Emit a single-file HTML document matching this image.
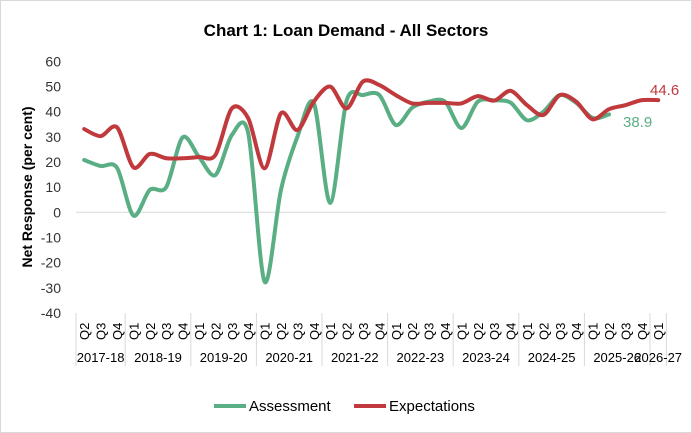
<!DOCTYPE html>
<html><head><meta charset="utf-8"><style>
body{margin:0;background:#fff}
svg{display:block;font-family:"Liberation Sans",Arial,sans-serif}
</style></head><body>
<svg id="s" width="692" height="433" viewBox="0 0 692 433">
<rect x="0.5" y="0.5" width="691" height="432" fill="#fff" stroke="#d9d9d9"/>
<text x="346" y="36" text-anchor="middle" font-size="17" font-weight="bold" fill="#000">Chart 1: Loan Demand - All Sectors</text>
<text transform="translate(32,187) rotate(-90)" text-anchor="middle" font-size="14" font-weight="bold" fill="#000">Net Response (per cent)</text>
<g font-size="14" fill="#333" text-anchor="end" id="yt"></g>
<line x1="76" y1="212.3" x2="666" y2="212.3" stroke="#d9d9d9" stroke-width="1"/>
<g id="xa"></g>
<path id="g" fill="none" stroke="#5aae84" stroke-width="4" stroke-linejoin="round" stroke-linecap="round"/>
<path id="r" fill="none" stroke="#c0393c" stroke-width="4" stroke-linejoin="round" stroke-linecap="round"/>
<text x="623" y="127" font-size="15" fill="#5aae84">38.9</text>
<text x="650" y="95" font-size="15" fill="#c0393c">44.6</text>
<line x1="214" y1="406" x2="246" y2="406" stroke="#5aae84" stroke-width="4"/>
<text x="249" y="411" font-size="15" fill="#000">Assessment</text>
<line x1="354" y1="406" x2="386" y2="406" stroke="#c0393c" stroke-width="4"/>
<text x="389" y="411" font-size="15" fill="#000">Expectations</text>
</svg>
<script>
var NS="http://www.w3.org/2000/svg";
function Y(v){return 212.3-v*2.515;}
function X(i){return 76+16.4*(i+0.5);}
var yt=document.getElementById('yt');
for(var v=-40;v<=60;v+=10){var t=document.createElementNS(NS,'text');t.setAttribute('x',61);t.setAttribute('y',Y(v)+5);t.textContent=v;yt.appendChild(t);}
var xa=document.getElementById('xa');
var q=['Q2','Q3','Q4'];for(var k=0;k<8;k++)q.push('Q1','Q2','Q3','Q4');q.push('Q1');
q.forEach(function(s,i){var t=document.createElementNS(NS,'text');var x=X(i)+5;t.setAttribute('transform','translate('+x+',340) rotate(-90)');t.setAttribute('font-size','13');t.setAttribute('fill','#000');t.textContent=s;xa.appendChild(t);});
var seps=[0,3,7,11,15,19,23,27,31,35,36];
seps.forEach(function(i){var l=document.createElementNS(NS,'line');var x=76+16.4*i;l.setAttribute('x1',x);l.setAttribute('x2',x);l.setAttribute('y1',313);l.setAttribute('y2',366);l.setAttribute('stroke','#d9d9d9');xa.appendChild(l);});
var yrs=['2017-18','2018-19','2019-20','2020-21','2021-22','2022-23','2023-24','2024-25','2025-26','2026-27'];
yrs.forEach(function(s,j){var a=76+16.4*seps[j],b=76+16.4*seps[j+1];var t=document.createElementNS(NS,'text');t.setAttribute('x',(a+b)/2);t.setAttribute('y',362);t.setAttribute('text-anchor','middle');t.setAttribute('font-size','13');t.setAttribute('fill','#000');t.textContent=s;xa.appendChild(t);});
var G=[20.8,18.4,17.7,-1.3,8.9,10,29.8,22,14.8,30.7,31.5,-27.6,9,30,43.5,3.7,44.4,46.6,46.6,34.7,41.6,44,44,33.5,44,44.5,43.6,36.6,40,46.6,43.5,37.5,38.9];
var R=[33.1,30.3,33.8,17.9,23.2,21.5,21.5,22,22.8,41.3,37.4,17.5,39.4,32.7,44,50,41.3,52,50.6,46.6,43.3,43.5,43.5,43.3,46.2,44.4,48.3,42.6,38.7,46.6,44,37,41,42.6,44.6,44.6];
function path(d){var p=d.map(function(v,i){return [X(i),Y(v)];});var s='M'+p[0][0]+','+p[0][1];
for(var i=0;i<p.length-1;i++){var p0=p[i-1]||p[i],p1=p[i],p2=p[i+1],p3=p[i+2]||p2;var t=0.45/3;
s+=' C'+(p1[0]+(p2[0]-p0[0])*t)+','+(p1[1]+(p2[1]-p0[1])*t)+' '+(p2[0]-(p3[0]-p1[0])*t)+','+(p2[1]-(p3[1]-p1[1])*t)+' '+p2[0]+','+p2[1];}return s;}
document.getElementById('g').setAttribute('d',path(G));
document.getElementById('r').setAttribute('d',path(R));
</script>
</body></html>
